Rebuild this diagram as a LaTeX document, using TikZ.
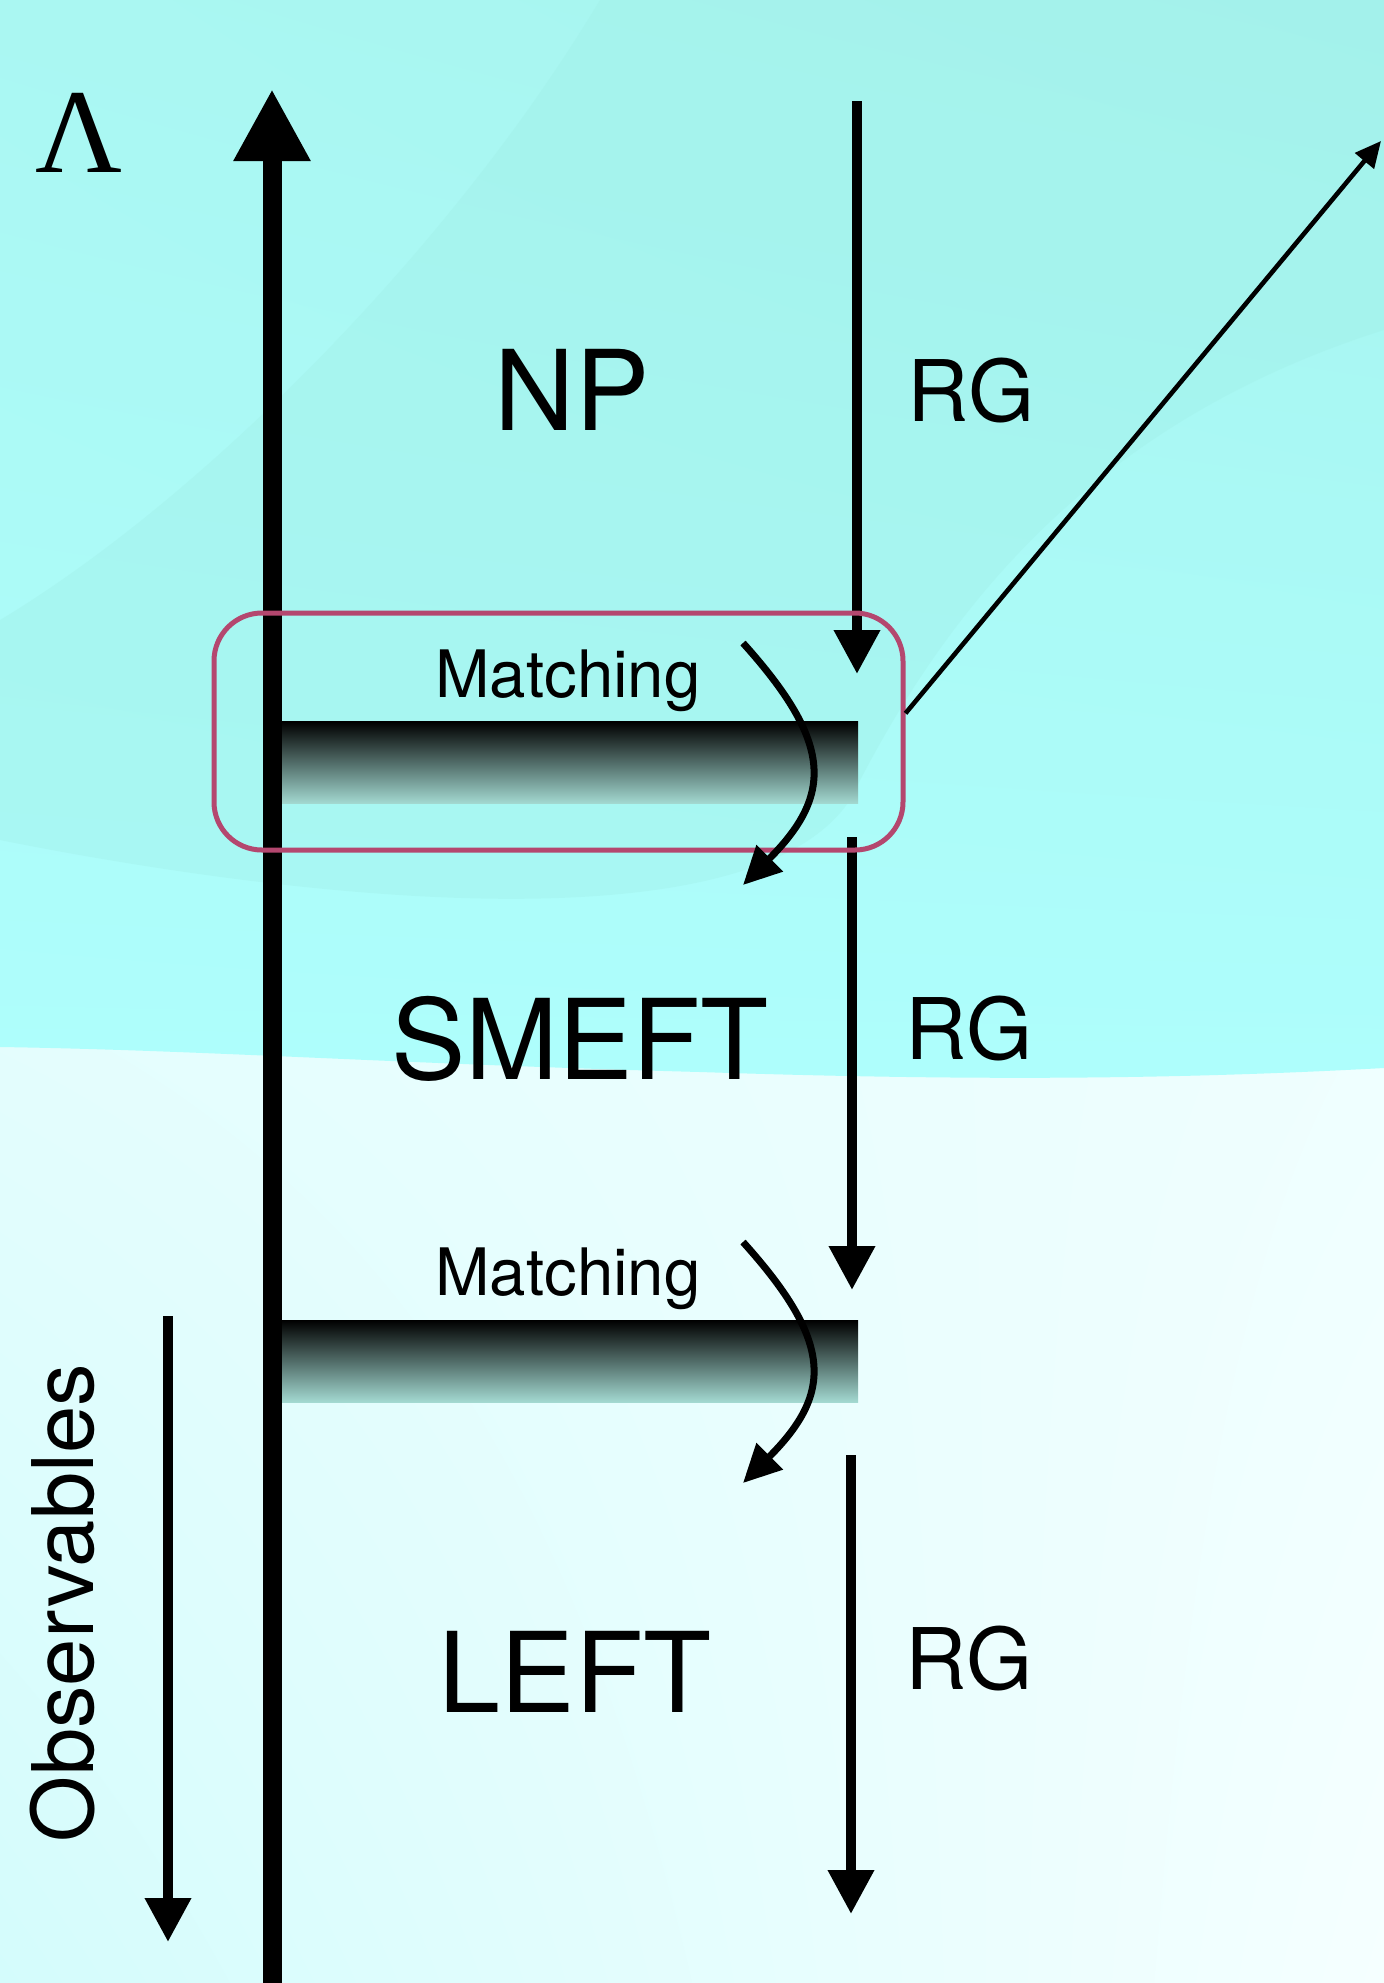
\documentclass[tikz,border=0pt]{standalone}
\usepackage{fontspec}
\setsansfont{TeX Gyre Heros}
\newfontfamily\lambdafont{Liberation Serif}
\usetikzlibrary{arrows.meta,positioning,shadings}
\definecolor{skyteal}{HTML}{AAF7F2}
\definecolor{deepteal}{HTML}{A0EEE6}
\definecolor{brightteal}{HTML}{AEFEFC}
\definecolor{paleteal}{HTML}{A6F4EE}
\definecolor{frostwhite}{HTML}{F5FFFF}
\definecolor{frostcyan}{HTML}{D4FCFC}
\definecolor{frostmid}{HTML}{E8FEFE}
\definecolor{barfade}{HTML}{A3D9D1}
\definecolor{boxrose}{HTML}{B4476F}
\tikzset{
  scaleaxis/.style={line width=9.5pt,-{Triangle[length=36pt,width=36pt]}},
  rgarrow/.style={line width=5pt,-{Triangle[length=22pt,width=22pt]}},
  obsarrow/.style={line width=5pt,-{Triangle[length=22pt,width=22pt]}},
  matcharrow/.style={line width=3.5pt,-{Triangle[length=19pt,width=18pt]}},
  uvarrow/.style={line width=2.3pt,-{Triangle[length=13pt,width=12pt]}},
  matchbar/.style={rectangle,inner sep=0pt,minimum width=288.5pt,minimum height=41pt,top color=black,bottom color=barfade},
  npframe/.style={rectangle,draw=boxrose,line width=2.5pt,rounded corners=24pt,inner sep=0pt,minimum width=344.5pt,minimum height=118.5pt},
  eftlabel/.style={font=\sffamily\fontsize{55.7}{60}\selectfont},
  rglabel/.style={font=\sffamily\fontsize{42.5}{46}\selectfont},
  matchlabel/.style={font=\sffamily\fontsize{32.7}{36}\selectfont},
}

\begin{document}
\begin{tikzpicture}[x=0.5pt,y=-0.5pt]
  \useasboundingbox (0,0) rectangle (1384,1983);
  % low-energy part of the background
  \shade[upper left=frostwhite,upper right=frostmid,lower left=frostcyan,lower right=frostwhite]
    (0,0) rectangle (1384,1983);
  % high-energy part
  \shade[upper left=skyteal,upper right=paleteal,lower left=brightteal,lower right=brightteal]
    (0,0) -- (1384,0) -- (1384,1068) .. controls (1200,1078) and (1000,1082) .. (700,1072)
    .. controls (400,1064) and (200,1050) .. (0,1047) -- cycle;
  \fill[deepteal,opacity=0.35] (600,0) -- (1384,0) -- (1384,330)
    .. controls (1100,420) and (950,600) .. (850,800)
    .. controls (750,950) and (300,900) .. (0,840) -- (0,620)
    .. controls (200,500) and (450,250) .. (600,0);

  % matching scales
  \node[matchbar] (bar1) at (569.5,762.5) {};
  \node[matchbar] (bar2) at (569.5,1361) {};

  % energy axis
  \coordinate (axbot) at (272,1983);
  \coordinate (axtop) at (272,89);
  \draw[scaleaxis] (axbot) -- (axtop);
  \node[font=\lambdafont\fontsize{60}{64}\selectfont] (lam) at (79,133) {Λ};

  % running between the scales
  \coordinate (rg0) at (857,101);  \coordinate (rg1) at (857,674);
  \coordinate (rg2) at (852,837);  \coordinate (rg3) at (852,1290);
  \coordinate (rg4) at (851,1455); \coordinate (rg5) at (851,1914);
  \draw[rgarrow] (rg0) -- (rg1);
  \draw[rgarrow] (rg2) -- (rg3);
  \draw[rgarrow] (rg4) -- (rg5);

  % observables
  \coordinate (obs0) at (168,1316); \coordinate (obs1) at (168,1942);
  \draw[obsarrow] (obs0) -- (obs1);
  \node[rglabel,rotate=90,anchor=base] (obs) at (93,1603) {Observables};

  % NP matching frame and the link out of it
  \node[npframe] (npbox) at (558.5,731.5) {};
  \coordinate (uvend) at (1381,141);
  \draw[uvarrow] (npbox.3) -- (uvend);

  % matching steps
  \coordinate (m1a) at (743,643);  \coordinate (m1b) at (743,885);
  \coordinate (m2a) at (743,1242); \coordinate (m2b) at (743,1483);
  \draw[matcharrow] (m1a) .. controls +(90,100) and +(90,-90) .. (m1b);
  \draw[matcharrow] (m2a) .. controls +(90,100) and +(90,-90) .. (m2b);
  \node[matchlabel,anchor=base] (match1) at (568,697) {Matching};
  \node[matchlabel,anchor=base] (match2) at (568,1295) {Matching};

  % theories
  \node[eftlabel,anchor=base] (npname) at (572,430) {NP};
  \node[eftlabel,anchor=base] (smeftname) at (580,1079) {SMEFT};
  \node[eftlabel,anchor=base] (leftname) at (575,1712) {LEFT};
  \node[rglabel,anchor=base] (rgnp) at (971,421) {RG};
  \node[rglabel,anchor=base] (rgsmeft) at (969,1059) {RG};
  \node[rglabel,anchor=base] (rgleft) at (969,1689) {RG};
\end{tikzpicture}
\end{document}
